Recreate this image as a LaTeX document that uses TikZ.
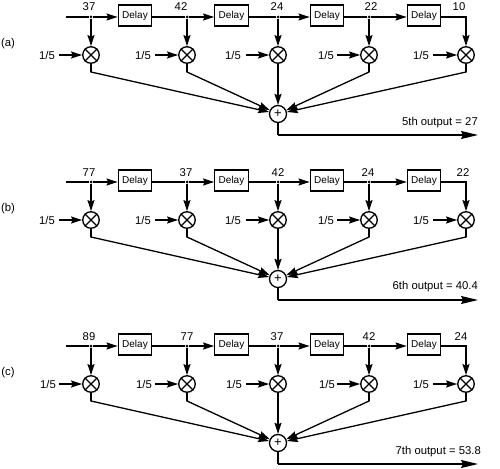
\documentclass[tikz,border=0pt]{standalone}
\usepackage{fontspec}
\setmainfont{Liberation Sans}
\usetikzlibrary{arrows.meta}
\tikzset{
  wire/.style={line width=1.3pt},
  sig/.style={wire,-{Stealth[length=11pt,width=7pt,inset=1.5pt]}},
  outsig/.style={wire,-{Stealth[length=17pt,width=8pt,inset=2pt]}},
  delaybox/.style={draw,line width=1.3pt,minimum width=33.5pt,minimum height=21pt,inner sep=0pt,font=\fontsize{10}{10}\selectfont},
  mult/.style={circle,draw,line width=1.3pt,minimum size=16.5pt,inner sep=0pt},
  adder/.style={circle,draw,line width=1.3pt,minimum size=17pt,inner sep=0pt,font=\fontsize{13}{13}\selectfont},
  dot/.style={circle,fill,minimum size=3pt,inner sep=0pt},
  lab/.style={inner sep=0pt,font=\fontsize{11.3}{11.3}\selectfont},
}
\newcommand{\panel}[2]{%
  \begin{scope}[shift={(0,#2)}]
    \coordinate (#1s) at (66,17);
    \node[delaybox] (#1d1) at (135,15.5) {Delay};
    \node[delaybox] (#1d2) at (231.5,15.5) {Delay};
    \node[delaybox] (#1d3) at (327,15.5) {Delay};
    \node[delaybox] (#1d4) at (424,15.5) {Delay};
    \node[dot] (#1j1) at (91,17) {};
    \node[dot] (#1j2) at (187,17) {};
    \node[dot] (#1j3) at (278,17) {};
    \node[dot] (#1j4) at (369,17) {};
    \coordinate (#1j5) at (466,17);
    \foreach \i/\x in {1/91,2/187,3/278,4/369,5/466}{
      \node[mult] (#1m\i) at (\x,55) {};
      \draw[line width=1.3pt] (#1m\i.north west) -- (#1m\i.south east);
      \draw[line width=1.3pt] (#1m\i.north east) -- (#1m\i.south west);
      \coordinate (#1e\i) at (\x,72);
    }
    \node[adder] (#1sum) at (278,114) {+};
    \coordinate (#1c) at (278,135);
    \coordinate (#1out) at (478,135);
    \draw[wire] (#1s) -- (#1j1);
    \draw[sig] (#1j1) -- (#1j1 -| #1d1.west);
    \draw[wire] (#1j2 -| #1d1.east) -- (#1j2);
    \draw[sig] (#1j2) -- (#1j2 -| #1d2.west);
    \draw[wire] (#1j3 -| #1d2.east) -- (#1j3);
    \draw[sig] (#1j3) -- (#1j3 -| #1d3.west);
    \draw[wire] (#1j4 -| #1d3.east) -- (#1j4);
    \draw[sig] (#1j4) -- (#1j4 -| #1d4.west);
    \draw[sig] (#1j5 -| #1d4.east) -- (#1j5) -- (#1m5);
    \foreach \i in {1,2,3,4}{\draw[sig] (#1j\i) -- (#1m\i);}
    \foreach \i in {1,2,4,5}{
      \draw[wire,line cap=round] (#1m\i) -- (#1e\i);
      \draw[sig] (#1e\i) -- (#1sum);
    }
    \draw[sig] (#1m3) -- (#1sum);
    \draw[wire] (#1sum) -- (#1c);
    \draw[outsig] (#1c) -- (#1out);
  \end{scope}
}
\newcommand{\gains}[7]{%
  \foreach \i/\x/\ax in {1/#3/59,2/#4/155,3/#5/246,4/#6/337,5/#7/433}{
    \node[lab] (#1g\i) at (\x,#2) {1/5};
    \coordinate (#1a\i) at (\ax,#2);
    \draw[sig] (#1a\i) -- (#1m\i);
  }
}
\begin{document}
\begin{tikzpicture}[x=1pt,y=-1pt]
\useasboundingbox (0,0) rectangle (500,468);
\panel{a}{0}
\panel{b}{165}
\panel{c}{329}
\gains{a}{55}{47}{143}{233}{326}{421}
\gains{b}{220}{47}{143}{233}{326}{421}
\gains{c}{384}{48}{144}{234}{327}{421}
\foreach \t/\x in {37/89,42/181,24/277,22/371,10/459}{\node[lab] (av\x) at (\x,7) {\t};}
\foreach \t/\x in {77/89,37/186,42/278,24/368,22/463}{\node[lab] (bv\x) at (\x,173) {\t};}
\foreach \t/\x in {89/89,77/187,37/277,42/369,24/461}{\node[lab] (cv\x) at (\x,337) {\t};}
\node[lab] (la) at (8,44) {(a)};
\node[lab] (lb) at (8,209) {(b)};
\node[lab] (lc) at (8,373) {(c)};
\node[lab,anchor=east] (oa) at (478,123) {5th output = 27};
\node[lab,anchor=east] (ob) at (478,287) {6th output = 40.4};
\node[lab,anchor=east] (oc) at (481,452) {7th output = 53.8};
\end{tikzpicture}
\end{document}
